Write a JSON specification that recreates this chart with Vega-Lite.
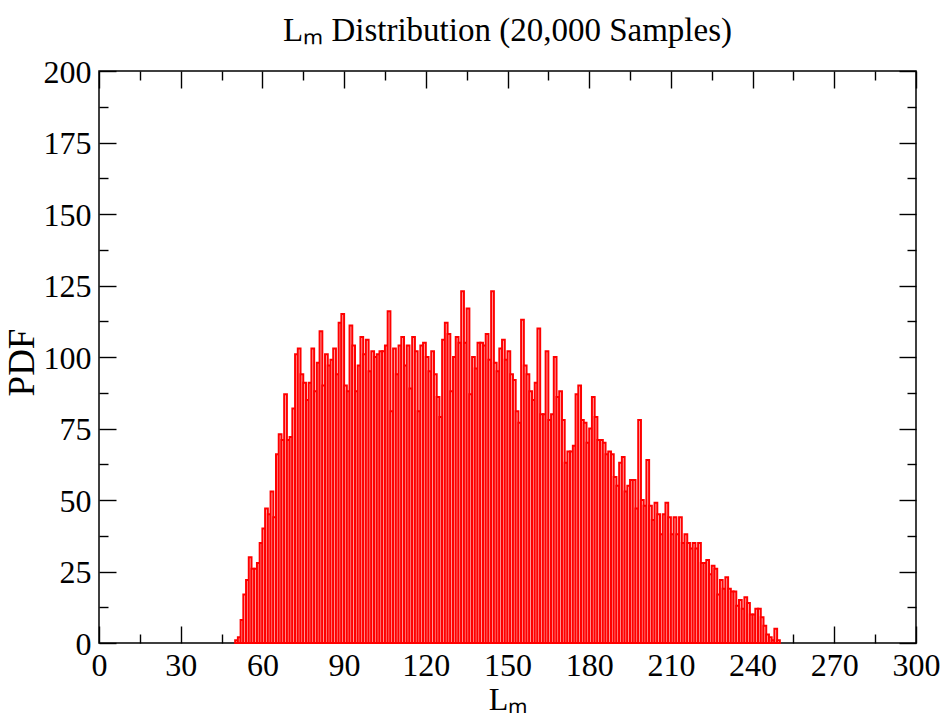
{
  "$schema": "https://vega.github.io/schema/vega-lite/v6.json",
  "width": 817,
  "height": 572,
  "autosize": {"type": "none"},
  "padding": {"left": 99, "top": 71, "right": 33, "bottom": 83},
  "background": "#ffffff",
  "title": {
    "text": "Lₘ Distribution (20,000 Samples)",
    "anchor": "middle",
    "baseline": "alphabetic",
    "offset": -18,
    "font": "Liberation Serif",
    "fontSize": 33,
    "fontWeight": "normal",
    "color": "#000000"
  },
  "data": {
    "values": [
      {"lo":50,"hi":51,"pdf":1},{"lo":51,"hi":52,"pdf":2},{"lo":52,"hi":53,"pdf":8},{"lo":53,"hi":54,"pdf":17},{"lo":54,"hi":55,"pdf":22},
      {"lo":55,"hi":56,"pdf":30},{"lo":56,"hi":57,"pdf":26},{"lo":57,"hi":58,"pdf":26},{"lo":58,"hi":59,"pdf":28},{"lo":59,"hi":60,"pdf":35},
      {"lo":60,"hi":61,"pdf":40},{"lo":61,"hi":62,"pdf":47},{"lo":62,"hi":63,"pdf":45},{"lo":63,"hi":64,"pdf":53},{"lo":64,"hi":65,"pdf":44},
      {"lo":65,"hi":66,"pdf":66},{"lo":66,"hi":67,"pdf":73},{"lo":67,"hi":68,"pdf":71},{"lo":68,"hi":69,"pdf":87},{"lo":69,"hi":70,"pdf":71},
      {"lo":70,"hi":71,"pdf":72},{"lo":71,"hi":72,"pdf":82},{"lo":72,"hi":73,"pdf":101},{"lo":73,"hi":74,"pdf":103},{"lo":74,"hi":75,"pdf":94},
      {"lo":75,"hi":76,"pdf":91},{"lo":76,"hi":77,"pdf":85},{"lo":77,"hi":78,"pdf":91},{"lo":78,"hi":79,"pdf":103},{"lo":79,"hi":80,"pdf":88},
      {"lo":80,"hi":81,"pdf":98},{"lo":81,"hi":82,"pdf":109},{"lo":82,"hi":83,"pdf":90},{"lo":83,"hi":84,"pdf":101},{"lo":84,"hi":85,"pdf":97},
      {"lo":85,"hi":86,"pdf":99},{"lo":86,"hi":87,"pdf":103},{"lo":87,"hi":88,"pdf":94},{"lo":88,"hi":89,"pdf":112},{"lo":89,"hi":90,"pdf":115},
      {"lo":90,"hi":91,"pdf":90},{"lo":91,"hi":92,"pdf":88},{"lo":92,"hi":93,"pdf":111},{"lo":93,"hi":94,"pdf":104},{"lo":94,"hi":95,"pdf":88},
      {"lo":95,"hi":96,"pdf":97},{"lo":96,"hi":97,"pdf":107},{"lo":97,"hi":98,"pdf":101},{"lo":98,"hi":99,"pdf":106},{"lo":99,"hi":100,"pdf":95},
      {"lo":100,"hi":101,"pdf":102},{"lo":101,"hi":102,"pdf":100},{"lo":102,"hi":103,"pdf":101},{"lo":103,"hi":104,"pdf":102},{"lo":104,"hi":105,"pdf":102},
      {"lo":105,"hi":106,"pdf":104},{"lo":106,"hi":107,"pdf":116},{"lo":107,"hi":108,"pdf":81},{"lo":108,"hi":109,"pdf":103},{"lo":109,"hi":110,"pdf":94},
      {"lo":110,"hi":111,"pdf":104},{"lo":111,"hi":112,"pdf":107},{"lo":112,"hi":113,"pdf":97},{"lo":113,"hi":114,"pdf":104},{"lo":114,"hi":115,"pdf":89},
      {"lo":115,"hi":116,"pdf":107},{"lo":116,"hi":117,"pdf":102},{"lo":117,"hi":118,"pdf":81},{"lo":118,"hi":119,"pdf":104},{"lo":119,"hi":120,"pdf":105},
      {"lo":120,"hi":121,"pdf":100},{"lo":121,"hi":122,"pdf":95},{"lo":122,"hi":123,"pdf":102},{"lo":123,"hi":124,"pdf":94},{"lo":124,"hi":125,"pdf":86},
      {"lo":125,"hi":126,"pdf":79},{"lo":126,"hi":127,"pdf":106},{"lo":127,"hi":128,"pdf":112},{"lo":128,"hi":129,"pdf":108},{"lo":129,"hi":130,"pdf":88},
      {"lo":130,"hi":131,"pdf":100},{"lo":131,"hi":132,"pdf":107},{"lo":132,"hi":133,"pdf":105},{"lo":133,"hi":134,"pdf":123},{"lo":134,"hi":135,"pdf":105},
      {"lo":135,"hi":136,"pdf":117},{"lo":136,"hi":137,"pdf":87},{"lo":137,"hi":138,"pdf":100},{"lo":138,"hi":139,"pdf":96},{"lo":139,"hi":140,"pdf":105},
      {"lo":140,"hi":141,"pdf":105},{"lo":141,"hi":142,"pdf":104},{"lo":142,"hi":143,"pdf":108},{"lo":143,"hi":144,"pdf":99},{"lo":144,"hi":145,"pdf":123},
      {"lo":145,"hi":146,"pdf":98},{"lo":146,"hi":147,"pdf":95},{"lo":147,"hi":148,"pdf":103},{"lo":148,"hi":149,"pdf":106},{"lo":149,"hi":150,"pdf":99},
      {"lo":150,"hi":151,"pdf":102},{"lo":151,"hi":152,"pdf":94},{"lo":152,"hi":153,"pdf":92},{"lo":153,"hi":154,"pdf":81},{"lo":154,"hi":155,"pdf":77},
      {"lo":155,"hi":156,"pdf":113},{"lo":156,"hi":157,"pdf":97},{"lo":157,"hi":158,"pdf":94},{"lo":158,"hi":159,"pdf":88},{"lo":159,"hi":160,"pdf":85},
      {"lo":160,"hi":161,"pdf":91},{"lo":161,"hi":162,"pdf":110},{"lo":162,"hi":163,"pdf":80},{"lo":163,"hi":164,"pdf":80},{"lo":164,"hi":165,"pdf":102},
      {"lo":165,"hi":166,"pdf":78},{"lo":166,"hi":167,"pdf":80},{"lo":167,"hi":168,"pdf":100},{"lo":168,"hi":169,"pdf":86},{"lo":169,"hi":170,"pdf":88},
      {"lo":170,"hi":171,"pdf":78},{"lo":171,"hi":172,"pdf":63},{"lo":172,"hi":173,"pdf":67},{"lo":173,"hi":174,"pdf":67},{"lo":174,"hi":175,"pdf":69},
      {"lo":175,"hi":176,"pdf":87},{"lo":176,"hi":177,"pdf":90},{"lo":177,"hi":178,"pdf":78},{"lo":178,"hi":179,"pdf":77},{"lo":179,"hi":180,"pdf":70},
      {"lo":180,"hi":181,"pdf":75},{"lo":181,"hi":182,"pdf":86},{"lo":182,"hi":183,"pdf":79},{"lo":183,"hi":184,"pdf":71},{"lo":184,"hi":185,"pdf":71},
      {"lo":185,"hi":186,"pdf":70},{"lo":186,"hi":187,"pdf":66},{"lo":187,"hi":188,"pdf":67},{"lo":188,"hi":189,"pdf":66},{"lo":189,"hi":190,"pdf":58},
      {"lo":190,"hi":191,"pdf":55},{"lo":191,"hi":192,"pdf":63},{"lo":192,"hi":193,"pdf":65},{"lo":193,"hi":194,"pdf":53},{"lo":194,"hi":195,"pdf":55},
      {"lo":195,"hi":196,"pdf":57},{"lo":196,"hi":197,"pdf":57},{"lo":197,"hi":198,"pdf":47},{"lo":198,"hi":199,"pdf":78},{"lo":199,"hi":200,"pdf":50},
      {"lo":200,"hi":201,"pdf":48},{"lo":201,"hi":202,"pdf":64},{"lo":202,"hi":203,"pdf":48},{"lo":203,"hi":204,"pdf":43},{"lo":204,"hi":205,"pdf":49},
      {"lo":205,"hi":206,"pdf":45},{"lo":206,"hi":207,"pdf":38},{"lo":207,"hi":208,"pdf":45},{"lo":208,"hi":209,"pdf":49},{"lo":209,"hi":210,"pdf":44},
      {"lo":210,"hi":211,"pdf":38},{"lo":211,"hi":212,"pdf":44},{"lo":212,"hi":213,"pdf":38},{"lo":213,"hi":214,"pdf":44},{"lo":214,"hi":215,"pdf":35},
      {"lo":215,"hi":216,"pdf":38},{"lo":216,"hi":217,"pdf":35},{"lo":217,"hi":218,"pdf":33},{"lo":218,"hi":219,"pdf":35},{"lo":219,"hi":220,"pdf":33},
      {"lo":220,"hi":221,"pdf":35},{"lo":221,"hi":222,"pdf":28},{"lo":222,"hi":223,"pdf":28},{"lo":223,"hi":224,"pdf":29},{"lo":224,"hi":225,"pdf":24},
      {"lo":225,"hi":226,"pdf":27},{"lo":226,"hi":227,"pdf":26},{"lo":227,"hi":228,"pdf":17},{"lo":228,"hi":229,"pdf":22},{"lo":229,"hi":230,"pdf":19},
      {"lo":230,"hi":231,"pdf":23},{"lo":231,"hi":232,"pdf":19},{"lo":232,"hi":233,"pdf":18},{"lo":233,"hi":234,"pdf":18},{"lo":234,"hi":235,"pdf":13},
      {"lo":235,"hi":236,"pdf":15},{"lo":236,"hi":237,"pdf":12},{"lo":237,"hi":238,"pdf":16},{"lo":238,"hi":239,"pdf":14},{"lo":239,"hi":240,"pdf":10},
      {"lo":240,"hi":241,"pdf":10},{"lo":241,"hi":242,"pdf":12},{"lo":242,"hi":243,"pdf":12},{"lo":243,"hi":244,"pdf":9},{"lo":244,"hi":245,"pdf":6},
      {"lo":245,"hi":246,"pdf":3},{"lo":246,"hi":247,"pdf":2},{"lo":247,"hi":248,"pdf":1},{"lo":248,"hi":249,"pdf":5},{"lo":249,"hi":250,"pdf":1}
    ]
  },
  "resolve": {"axis": {"x": "independent", "y": "independent"}},
  "layer": [
    {
      "mark": {"type": "rect", "fill": "#ffd0d0", "stroke": "#ff0000", "strokeWidth": 2},
      "encoding": {
        "x": {
          "field": "lo", "type": "quantitative",
          "scale": {"domain": [0, 300], "nice": false, "zero": false},
          "axis": {
            "orient": "bottom",
            "values": [0, 30, 60, 90, 120, 150, 180, 210, 240, 270, 300],
            "format": "d",
            "tickSize": -17,
            "labelPadding": 24,
            "labelBaseline": "top",
            "title": "Lₘ",
            "titleX": 408.5,
            "titleY": 66,
            "titleAlign": "center",
            "titleBaseline": "alphabetic"
          }
        },
        "x2": {"field": "hi"},
        "y": {
          "field": "pdf", "type": "quantitative",
          "scale": {"domain": [0, 200], "nice": false, "zero": true},
          "axis": {
            "orient": "left",
            "values": [0, 25, 50, 75, 100, 125, 150, 175, 200],
            "format": "d",
            "tickSize": -17,
            "labelPadding": 25,
            "labelBaseline": "alphabetic",
            "labelOffset": 11,
            "title": "PDF",
            "titleFontSize": 37,
            "titleX": -66,
            "titleY": 291,
            "titleAngle": 270,
            "titleAlign": "center",
            "titleBaseline": "alphabetic"
          }
        },
        "y2": {"datum": 0}
      }
    },
    {
      "mark": {"type": "point", "opacity": 0},
      "encoding": {
        "x": {
          "field": "lo", "type": "quantitative",
          "scale": {"domain": [0, 300], "nice": false, "zero": false},
          "axis": {"orient": "bottom", "values": [15, 45, 75, 105, 135, 165, 195, 225, 255, 285], "tickSize": -9, "labels": false, "title": null}
        },
        "y": {
          "field": "pdf", "type": "quantitative",
          "scale": {"domain": [0, 200], "nice": false, "zero": true},
          "axis": {"orient": "left", "values": [12.5, 37.5, 62.5, 87.5, 112.5, 137.5, 162.5, 187.5], "tickSize": -9, "labels": false, "title": null}
        }
      }
    },
    {
      "mark": {"type": "point", "opacity": 0},
      "encoding": {
        "x": {
          "field": "lo", "type": "quantitative",
          "scale": {"domain": [0, 300], "nice": false, "zero": false},
          "axis": {"orient": "top", "values": [0, 30, 60, 90, 120, 150, 180, 210, 240, 270, 300], "tickSize": -17, "labels": false, "title": null}
        },
        "y": {
          "field": "pdf", "type": "quantitative",
          "scale": {"domain": [0, 200], "nice": false, "zero": true},
          "axis": {"orient": "right", "values": [0, 25, 50, 75, 100, 125, 150, 175, 200], "tickSize": -17, "labels": false, "title": null}
        }
      }
    },
    {
      "mark": {"type": "point", "opacity": 0},
      "encoding": {
        "x": {
          "field": "lo", "type": "quantitative",
          "scale": {"domain": [0, 300], "nice": false, "zero": false},
          "axis": {"orient": "top", "values": [15, 45, 75, 105, 135, 165, 195, 225, 255, 285], "tickSize": -9, "labels": false, "title": null}
        },
        "y": {
          "field": "pdf", "type": "quantitative",
          "scale": {"domain": [0, 200], "nice": false, "zero": true},
          "axis": {"orient": "right", "values": [12.5, 37.5, 62.5, 87.5, 112.5, 137.5, 162.5, 187.5], "tickSize": -9, "labels": false, "title": null}
        }
      }
    }
  ],
  "config": {
    "font": "Liberation Serif",
    "view": {"stroke": "#000000", "strokeWidth": 1.5},
    "axis": {
      "domain": false,
      "grid": false,
      "ticks": true,
      "tickColor": "#000000",
      "tickWidth": 1.4,
      "labelFont": "Liberation Serif",
      "labelFontSize": 32,
      "labelColor": "#000000",
      "labelFlush": false,
      "labelOverlap": false,
      "titleFont": "Liberation Serif",
      "titleFontSize": 32,
      "titleFontWeight": "normal",
      "titleColor": "#000000",
      "zindex": 1
    }
  }
}
